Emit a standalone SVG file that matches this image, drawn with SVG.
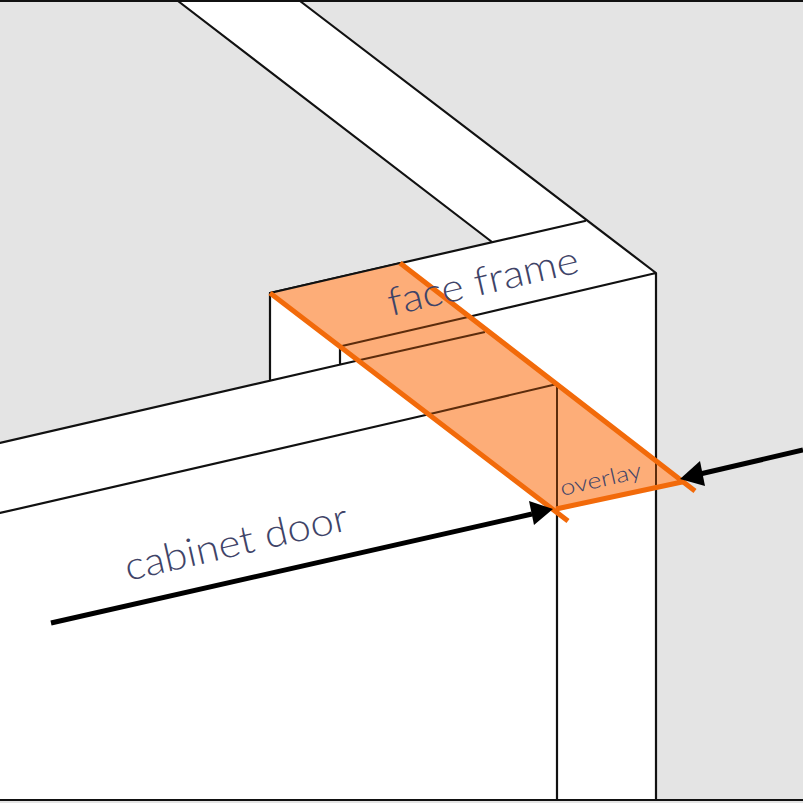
<svg xmlns="http://www.w3.org/2000/svg" width="803" height="803" viewBox="0 0 803 803">
<style>
.e{fill:none;stroke:#111;stroke-width:2.2;stroke-linecap:round}
.d{fill:none;stroke:#5c2c0c;stroke-width:2}
.o{fill:none;stroke:#f26a0a;stroke-width:5}
.a{fill:none;stroke:#000;stroke-width:5}
.h{fill:#000}
text{font-family:"Lato","Liberation Sans",sans-serif;font-weight:300;fill:#3f4468}
</style>
<rect id="background" width="803" height="803" fill="#e4e4e4"/>
<g id="cabinet" fill="#fff">
<polygon points="178,0 300,0 585,220 492,242"/>
<polygon points="270,293 585,221 656,273 656,800 270,800"/>
<polygon points="0,443 343,363 484,332 557,385 557,800 0,800"/>
</g>
<g id="edges">
<path class="e" d="M0,1H803M0,800H803M178,1L492,242M300,1L656,273M270,293L585,221M656,273L468,317M656,273V800M270,293V380M340,347V364M0,443L360,360M0,513L430,414M557,385V800"/>
</g>
<g id="overlay-band">
<polygon points="270,293 400,263 682,482 557,511" fill="#fdad78"/>
<path class="d" d="M342,346L468,317M360,360L485,332M430,414L557,384M557,384V508M656,461V485"/>
<path class="e" d="M270,293L400,263"/>
<path class="o" d="M270,293L568,521M400,263L695,491M556,509L682,482"/>
</g>
<g id="connectors">
<line class="a" x1="51" y1="623" x2="532" y2="514"/>
<polygon class="h" points="553,509 534,525 529,501"/>
<line class="a" x1="803" y1="450" x2="700" y2="474"/>
<polygon class="h" points="680,479 700,461 705,486"/>
</g>
<g id="label-face-frame"><text transform="translate(391,316) rotate(-13)" font-size="39" textLength="195" lengthAdjust="spacingAndGlyphs">face frame</text></g>
<g id="label-cabinet-door"><text transform="translate(128,581) rotate(-13)" font-size="39" textLength="228" lengthAdjust="spacingAndGlyphs">cabinet door</text></g>
<g id="label-overlay"><text transform="translate(562,496) rotate(-13)" font-size="22" textLength="83" lengthAdjust="spacingAndGlyphs">overlay</text></g>
</svg>
